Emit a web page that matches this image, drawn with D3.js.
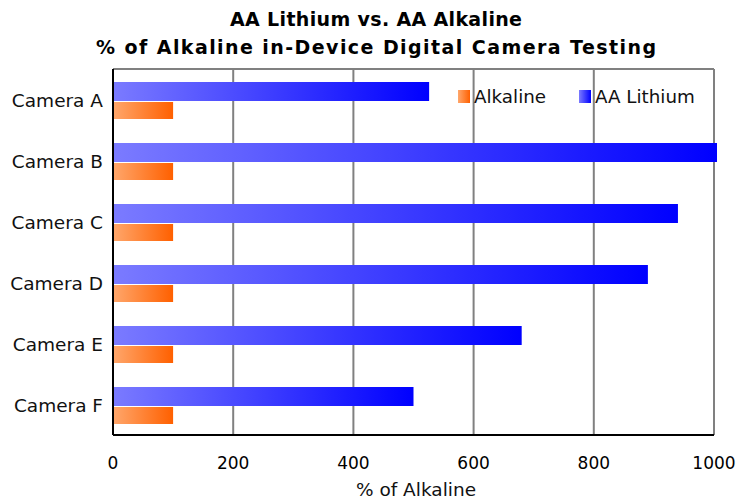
<!DOCTYPE html>
<html>
<head>
<meta charset="utf-8">
<script src="https://cdn.jsdelivr.net/npm/d3@7"></script>
<style>
  body { margin: 0; background: #fff; }
  text { font-family: Verdana, "DejaVu Sans", sans-serif; }
</style>
</head>
<body>
<div id="chart"></div>
<script>
// data
var categories = ["Camera A", "Camera B", "Camera C", "Camera D", "Camera E", "Camera F"];
var lithium = [526, 1005, 940, 890, 680, 500];
var alkaline = [100, 100, 100, 100, 100, 100];
var xTicks = [0, 200, 400, 600, 800, 1000];

var W = 741, H = 500;
var margin = {top: 69, right: 27, bottom: 65, left: 113};
var width = W - margin.left - margin.right,
    height = H - margin.top - margin.bottom;

var svg = d3.select("#chart").append("svg")
  .attr("width", W).attr("height", H);

// gradients
var defs = svg.append("defs");
function grad(id, c0, c1) {
  var g = defs.append("linearGradient").attr("id", id)
    .attr("x1", "0%").attr("x2", "100%").attr("y1", "0%").attr("y2", "0%");
  g.append("stop").attr("offset", "0%").attr("stop-color", c0);
  g.append("stop").attr("offset", "100%").attr("stop-color", c1);
}
grad("gLith", "#7b7bff", "#0000ff");
grad("gAlk", "#ffa76c", "#ff6000");

var g = svg.append("g")
  .attr("transform", "translate(" + margin.left + "," + margin.top + ")");

var x = d3.scaleLinear().domain([0, 1000]).range([0, width]);
var y = d3.scaleBand().domain(categories).range([0, height]);
var barH = 19;

// gridlines
g.selectAll(".grid").data(xTicks.slice(1)).enter().append("line")
  .attr("x1", function(d){ return x(d); }).attr("x2", function(d){ return x(d); })
  .attr("y1", 0).attr("y2", height)
  .attr("stroke", "#808080").attr("stroke-width", 2);
g.append("line").attr("x1", 0).attr("x2", width).attr("y1", 0).attr("y2", 0)
  .attr("stroke", "#808080").attr("stroke-width", 2);

// bars
g.selectAll(".lith").data(categories).enter().append("rect")
  .attr("x", 0)
  .attr("y", function(d){ return y(d) + 13; })
  .attr("width", function(d, i){ return x(lithium[i]); })
  .attr("height", barH)
  .attr("fill", "url(#gLith)");

g.selectAll(".alk").data(categories).enter().append("rect")
  .attr("x", 0)
  .attr("y", function(d){ return y(d) + 13 + barH + 1; })
  .attr("width", function(d, i){ return x(alkaline[i]); })
  .attr("height", 17)
  .attr("fill", "url(#gAlk)");

// axes lines
g.append("line").attr("x1", 0).attr("x2", width).attr("y1", height).attr("y2", height)
  .attr("stroke", "#000").attr("stroke-width", 2);
g.append("line").attr("x1", 0).attr("x2", 0).attr("y1", 0).attr("y2", height)
  .attr("stroke", "#000").attr("stroke-width", 2);

// x tick labels
g.selectAll(".xt").data(xTicks).enter().append("text")
  .attr("x", function(d){ return x(d); })
  .attr("y", height + 34)
  .attr("text-anchor", "middle")
  .attr("font-size", "17px")
  .attr("fill", "#000")
  .text(function(d){ return d; });

// category labels
g.selectAll(".yt").data(categories).enter().append("text")
  .attr("x", -10)
  .attr("y", function(d){ return y(d) + 38; })
  .attr("text-anchor", "end")
  .attr("font-size", "18.5px")
  .attr("fill", "#111")
  .text(function(d){ return d; });

// axis title
svg.append("text")
  .attr("x", 416).attr("y", 496)
  .attr("text-anchor", "middle")
  .attr("font-size", "18.5px")
  .attr("fill", "#111")
  .text("% of Alkaline");

// title
svg.append("text").attr("x", 376).attr("y", 26)
  .attr("text-anchor", "middle").attr("font-size", "19px").attr("font-weight", "bold")
  .attr("textLength", 292).attr("lengthAdjust", "spacing")
  .text("AA Lithium vs. AA Alkaline");
svg.append("text").attr("x", 376).attr("y", 54)
  .attr("text-anchor", "middle").attr("font-size", "19px").attr("font-weight", "bold")
  .attr("textLength", 560).attr("lengthAdjust", "spacing")
  .text("% of Alkaline in-Device Digital Camera Testing");

// legend
var legend = [{name: "Alkaline", fill: "url(#gAlk)", x: 458}, {name: "AA Lithium", fill: "url(#gLith)", x: 579}];
var lg = svg.selectAll(".lg").data(legend).enter().append("g")
  .attr("transform", function(d){ return "translate(" + d.x + ",90)"; });
lg.append("rect").attr("width", 12).attr("height", 13).attr("fill", function(d){ return d.fill; });
lg.append("text").attr("x", 16).attr("y", 13).attr("font-size", "18.3px").attr("fill", "#111")
  .text(function(d){ return d.name; });
</script>
</body>
</html>
